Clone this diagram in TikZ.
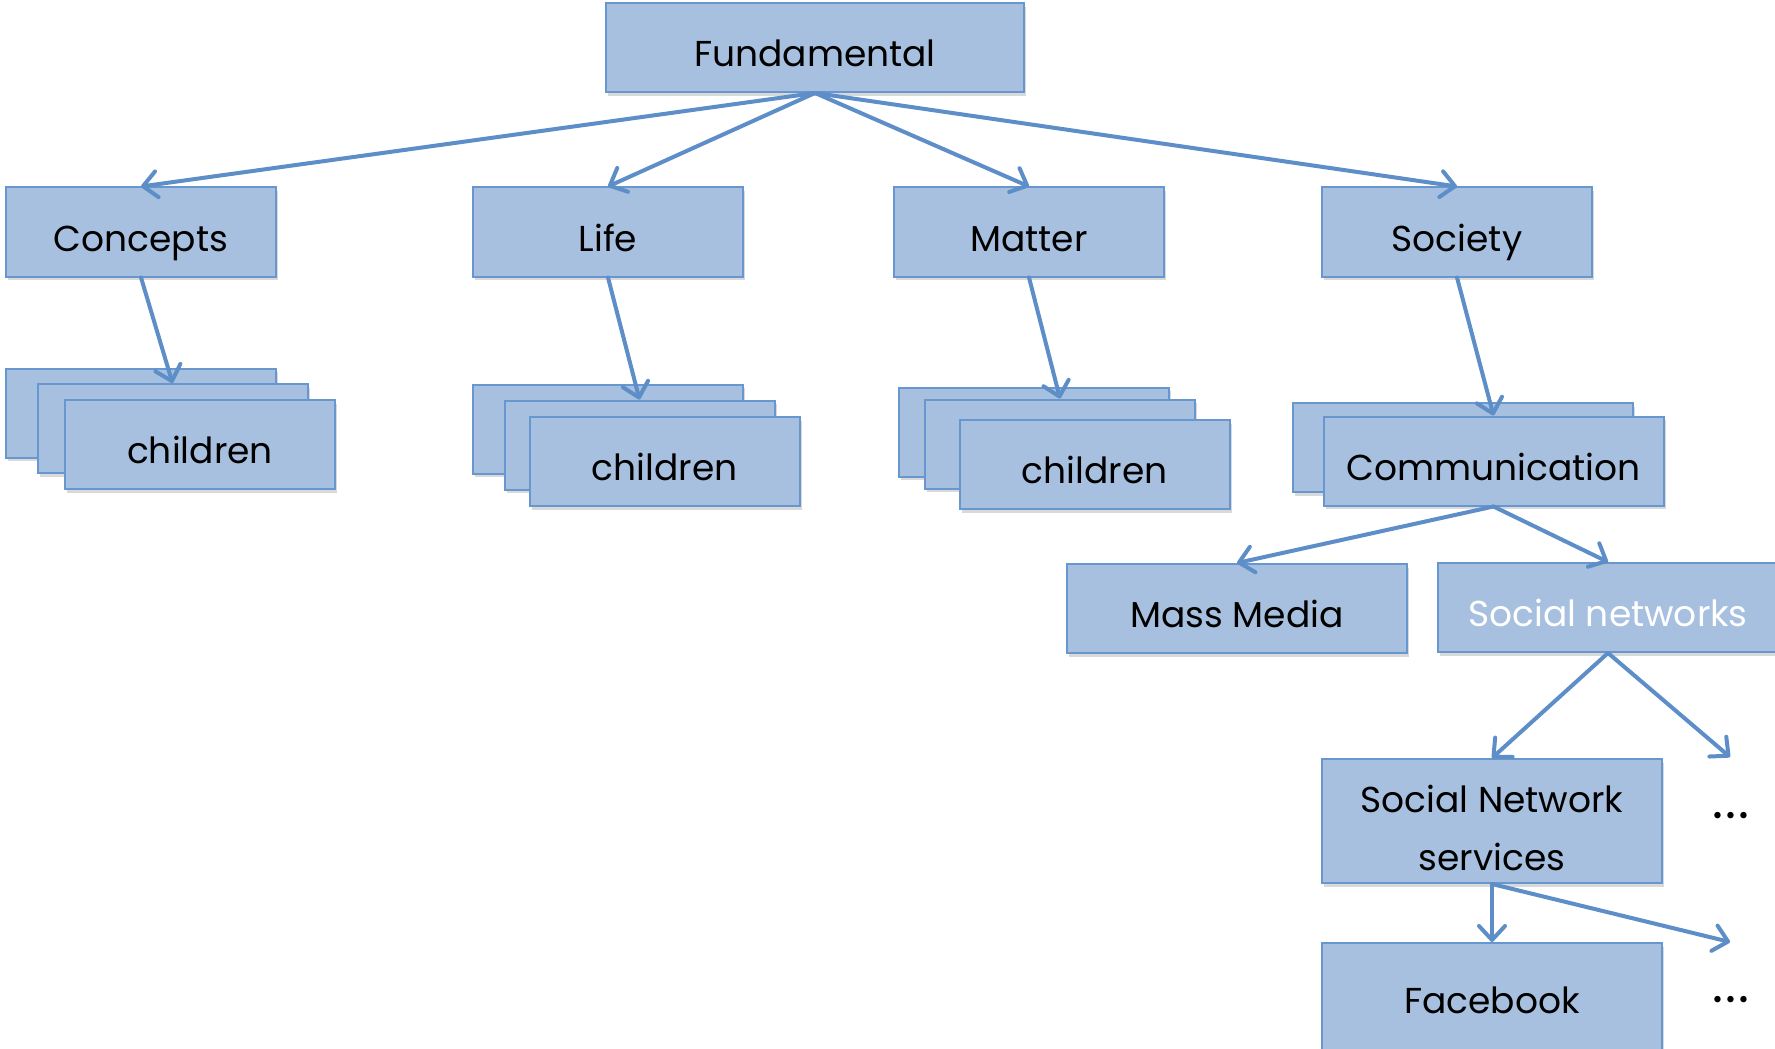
\documentclass[tikz,border=0pt]{standalone}
\usepackage{fontspec}
\setmainfont{Poppins}
\usetikzlibrary{positioning}
\usetikzlibrary{arrows.meta,shadows}
\definecolor{boxfill}{RGB}{167,192,223}
\definecolor{boxline}{RGB}{104,150,206}
\definecolor{linkblue}{RGB}{93,142,200}
\tikzset{
  card/.style={draw=boxline, line width=1pt, fill=boxfill, minimum width=135pt,
    minimum height=44.5pt, inner sep=0pt, font=\fontsize{18}{22}\selectfont,
    text height=19pt, text depth=0pt,
    drop shadow={shadow xshift=1.2pt, shadow yshift=-1.8pt, opacity=0.3}},
  widecard/.style={card, minimum width=170pt},
  link/.style={draw=linkblue, line width=2pt, line cap=round,
    -{Straight Barb[length=7pt,width=13pt,round]}},
  more/.style={anchor=base, font=\fontsize{26}{30}\selectfont},
}
\begin{document}
\begin{tikzpicture}[x=0.5pt,y=-0.5pt]
\useasboundingbox (0,0) rectangle (1775,1048);
\path (815,47.5) node[card, minimum width=209pt] (Fund) {Fundamental}
(141,232) node[card] (Conc) {Concepts}
(608,232) node[card] (Life) {Life}
(1029,232) node[card] (Matt) {Matter}
(1457,232) node[card] (Soc) {Society};
% stacked children
\path (141,413) node[card] (Conc0) {}
++(31.5,15.5) node[card] (Conc1) {}
++(27.5,16) node[card] (Conc2) {children};
\path (608,429) node[card] (Life0) {}
++(31.5,16) node[card] (Life1) {}
++(25,16.5) node[card] (Life2) {children};
\path (1033.5,432) node[card] (Matt0) {}
++(26.5,12) node[card] (Matt1) {}
++(34.5,20.5) node[card] (Matt2) {children};
\path (1462.5,447.5) node[widecard] (Comm0) {}
++(31,13.5) node[widecard] (Comm1) {Communication};
\path (1237,608.5) node[widecard] (Mass) {Mass Media}
(1608,607.5) node[widecard, text=white] (SocN) {Social networks}
(1492,821) node[widecard, minimum height=62pt, align=center,
  font=\fontsize{18}{29}\selectfont, text height=49pt] (SNS) {Social Network\\services}
(1492,1000) node[widecard, minimum height=57pt, text height=13pt] (Face) {Facebook};
\path (1730,757) coordinate (more0)
(1730,942) coordinate (more1)
(1731,818) node[more] (dots0) {.\kern1pt.\kern1pt.}
(1731,1002) node[more] (dots1) {.\kern1pt.\kern1pt.};
% links
\draw[link] (Fund.south) -- (Conc.north);
\draw[link] (Fund.south) -- (Life.north);
\draw[link] (Fund.south) -- (Matt.north);
\draw[link] (Fund.south) -- (Soc.north);
\draw[link] (Conc.south) -- (Conc1.north);
\draw[link] (Life.south) -- (Life1.north);
\draw[link] (Matt.south) -- (Matt1.north);
\draw[link] (Soc.south) -- (Comm1.north);
\draw[link] (Comm1.south) -- (Mass.north);
\draw[link] (Comm1.south) -- (SocN.north);
\draw[link] (SocN.south) -- (SNS.north);
\draw[link] (SocN.south) -- (more0);
\draw[link] (SNS.south) -- (Face.north);
\draw[link] (SNS.south) -- (more1);
\end{tikzpicture}
\end{document}
